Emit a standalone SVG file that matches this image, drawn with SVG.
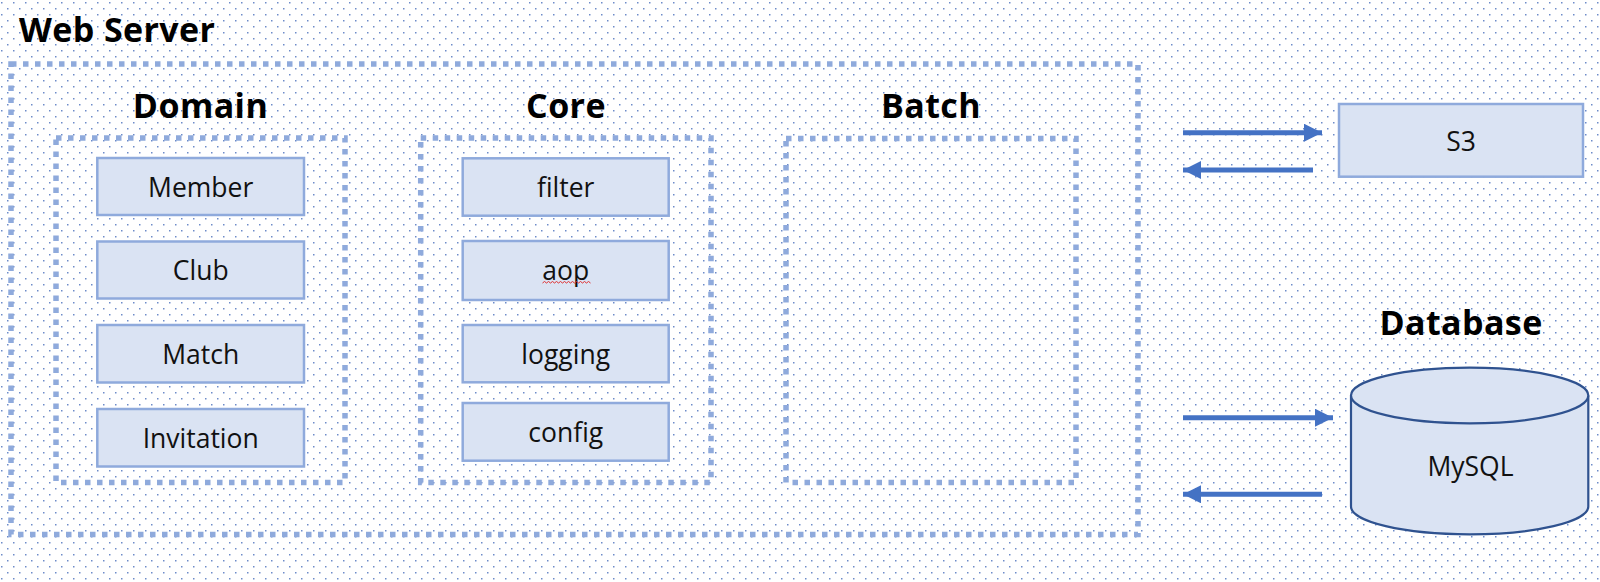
<svg xmlns="http://www.w3.org/2000/svg" width="1600" height="582" viewBox="0 0 1600 582">
  <defs>
    <pattern id="dots" x="1" y="2" width="12" height="12" patternUnits="userSpaceOnUse">
      <rect x="0" y="0" width="1.5" height="1.5" fill="#6d8cc9"/>
      <rect x="6" y="6" width="1.5" height="1.5" fill="#6d8cc9"/>
    </pattern>
    <marker id="ah" markerUnits="userSpaceOnUse" markerWidth="18" markerHeight="18" refX="18" refY="9" orient="auto">
      <path d="M0,0 L18,9 L0,18 z" fill="#4472c4"/>
    </marker>
  </defs>
  <style>
    .group { fill: none; stroke: #8faadc; stroke-width: 5.5; stroke-dasharray: 5.5 6.5; }
    .box { fill: #dae3f3; stroke: #8faadc; stroke-width: 2.5; }
    .title { font-family: "Open Sans", "Noto Sans", sans-serif; font-weight: bold; font-size: 34px; letter-spacing: 0.4px; fill: #000; }
    .lbl { font-family: "Open Sans", "Noto Sans", sans-serif; font-size: 26.5px; fill: #111; text-anchor: middle; }
    .arrow { stroke: #4472c4; stroke-width: 5; fill: none; marker-end: url(#ah); }
    .cyl { fill: #dae3f3; stroke: #2f528f; stroke-width: 2.2; }
  </style>

  <rect width="1600" height="582" fill="#ffffff"/>
  <rect width="1600" height="582" fill="url(#dots)"/>

  <g id="web-server">
    <rect class="group" x="11" y="64" width="1127" height="470.5"/>
    <text class="title" x="19" y="42">Web Server</text>
  </g>

  <g id="domain">
    <rect class="group" x="56" y="138" width="289" height="344.5"/>
    <text class="title" x="200.5" y="118" text-anchor="middle">Domain</text>
  </g>
  <g id="member">
    <rect class="box" x="97.3" y="158" width="206.7" height="57"/>
    <text class="lbl" x="200.7" y="196.5">Member</text>
  </g>
  <g id="club">
    <rect class="box" x="97.3" y="241.5" width="206.7" height="57"/>
    <text class="lbl" x="200.7" y="280">Club</text>
  </g>
  <g id="match">
    <rect class="box" x="97.3" y="325" width="206.7" height="57.5"/>
    <text class="lbl" x="200.7" y="363.5">Match</text>
  </g>
  <g id="invitation">
    <rect class="box" x="97.3" y="409" width="206.7" height="57.5"/>
    <text class="lbl" x="200.7" y="447.5">Invitation</text>
  </g>

  <g id="core">
    <rect class="group" x="420.7" y="138" width="290.3" height="344.5"/>
    <text class="title" x="566" y="118" text-anchor="middle">Core</text>
  </g>
  <g id="filter">
    <rect class="box" x="462.7" y="158.3" width="206" height="57.4"/>
    <text class="lbl" x="565.7" y="197">filter</text>
  </g>
  <g id="aop">
    <rect class="box" x="462.7" y="241" width="206" height="59"/>
    <text class="lbl" x="565.7" y="280">aop</text>
    <path d="M542.5,283 l2,-1.5 l2,1.5 l2,-1.5 l2,1.5 l2,-1.5 l2,1.5 l2,-1.5 l2,1.5 l2,-1.5 l2,1.5 l2,-1.5 l2,1.5 l2,-1.5 l2,1.5 l2,-1.5 l2,1.5 l2,-1.5 l2,1.5 l2,-1.5 l2,1.5 l2,-1.5 l2,1.5 l2,-1.5 l2,1.5" fill="none" stroke="#e03030" stroke-width="1"/>
  </g>
  <g id="logging">
    <rect class="box" x="462.7" y="325" width="206" height="57.3"/>
    <text class="lbl" x="565.7" y="363.5">logging</text>
  </g>
  <g id="config">
    <rect class="box" x="462.7" y="403" width="206" height="57.7"/>
    <text class="lbl" x="565.7" y="441.5">config</text>
  </g>

  <g id="batch">
    <rect class="group" x="786" y="138.5" width="290" height="344"/>
    <text class="title" x="931" y="118" text-anchor="middle">Batch</text>
  </g>

  <g id="s3">
    <rect class="box" x="1339" y="104" width="244" height="72.7"/>
    <text class="lbl" x="1461" y="150.5">S3</text>
  </g>

  <g id="database">
    <text class="title" x="1461" y="335" text-anchor="middle">Database</text>
    <path class="cyl" d="M1351,395.5 V506.5 A118.65,27.8 0 0 0 1588.3,506.5 V395.5"/>
    <ellipse class="cyl" cx="1469.65" cy="395.5" rx="118.65" ry="27.8"/>
    <text class="lbl" x="1470.5" y="475.5">MySQL</text>
  </g>

  <g id="connectors">
    <line class="arrow" x1="1183" y1="132.7" x2="1322" y2="132.7"/>
    <line class="arrow" x1="1313" y1="170" x2="1183" y2="170"/>
    <line class="arrow" x1="1183" y1="417.7" x2="1333" y2="417.7"/>
    <line class="arrow" x1="1322" y1="494.3" x2="1183" y2="494.3"/>
  </g>
</svg>
